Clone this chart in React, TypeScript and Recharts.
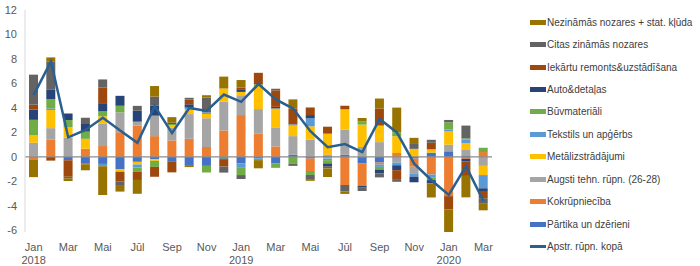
import { ComposedChart, Bar, Line, XAxis, YAxis, ReferenceLine, Legend } from 'recharts';

// Jan 2018 – Mar 2020, monthly
const months = [
  'Jan', 'Feb', 'Mar', 'Apr', 'Mai', 'Jūn', 'Jūl', 'Aug', 'Sep', 'Okt', 'Nov', 'Dec',
  'Jan', 'Feb', 'Mar', 'Apr', 'Mai', 'Jūn', 'Jūl', 'Aug', 'Sep', 'Okt', 'Nov', 'Dec',
  'Jan', 'Feb', 'Mar',
];
const years = [
  '2018', '', '', '', '', '', '', '', '', '', '', '',
  '2019', '', '', '', '', '', '', '', '', '', '', '',
  '2020', '', '',
];

const partika = [0, 0, -0.27, -0.55, -0.57, -1.02, -0.4, -0.19, -0.4, -0.73, -0.73, 0, -0.54, -0.13, -0.54, 0.19, -0.13, 0.1, 0.19, -0.54, -0.46, 0, -0.13, 0.35, 0.46, 0.13, 0];
const kokrupn = [-0.2, 1.43, 0, 0.67, 0.89, 2.02, 2.56, 1.7, 1.35, 1.48, 0.81, 2.16, 3.42, 1.89, 0.86, 0, -1.02, 0.1, -2.29, -1.81, -0.16, 0.32, -0.67, -1.43, -3.2, -0.15, 0.4];
const augstiTehn = [1.16, 0.92, 1.56, 0, 1.81, 1.62, 0.32, 1.67, 1.05, 2.02, 2.35, 2.35, 1.62, 2.02, 1.56, 1.51, 1.4, -0.13, 2.05, 0.81, 1.21, -0.46, -0.54, 0, 0.54, 0.49, -0.73];
const metali = [0.6, 1.48, 0.86, 0.81, 0.62, -0.19, -0.22, -0.13, 0.2, 0.4, 0.35, 1.08, 0.27, 1.89, 1.54, 0.86, 1.1, 1.7, 1.62, 1.83, 1.35, 1.37, 0.66, 0.27, 1.08, 0.51, -0.75];
const tekstils = [0, 0.13, 0, 0, -0.19, 0, -0.24, 0, 0, 0.13, 0.13, 0, -0.35, -0.13, 0, 0.1, 0.65, -0.13, 0, 0, -0.19, -0.22, -0.27, -0.27, 0.16, 0.3, -1.08];
const buvmat = [1.27, 0.75, 0.59, 0.59, 0.4, 0.54, -0.35, -0.49, 0.1, 0, -0.54, -0.13, -0.59, 0.13, -0.35, -0.54, -0.32, -0.27, 0.05, 0.27, -0.22, 0.32, 0, -0.19, 0.59, 0.08, 0.35];
const auto = [0.84, 0.81, 0.54, 0.62, 0.67, 0.81, 0.89, 0.81, 0.1, 0.27, 0, -0.05, 0.22, 0, 0.13, 0, 0.27, -0.22, 0, -0.16, -0.32, -0.4, -0.46, -0.27, 0, -0.2, -0.22];
const iekartas = [0.4, -0.3, -1.35, -0.05, 1.27, -0.81, -0.67, -0.81, -0.86, 0.4, 0, -0.6, 0.13, 0.94, 1.35, 1.29, 0.62, 0.57, 0.27, 0, 1.4, -0.73, 0, 0.54, -1.08, -1.2, -0.59];
const citas = [2.45, 2.29, -0.13, 0.51, 0.67, -0.27, 0.4, 0.75, 0, 0.13, 1.21, -0.5, -0.32, 0, 0.13, -0.19, -0.4, -0.19, -0.54, -0.27, -0.32, -0.22, 0.4, 0.24, 0.19, 1.05, -0.4];
const nezinamas = [-1.45, 0.32, -0.22, -0.49, -2.35, -0.54, -1.13, 0.86, 0.45, -0.1, 0.19, 0.97, 0.62, -0.67, 0, 0.75, -0.08, -0.7, -0.19, 0.27, 0.81, 2.02, 0.5, -1.15, -1.85, -1.75, -0.59];
const kopa = [5.05, 7.8, 1.6, 2.2, 3.2, 2.15, 1.15, 4.15, 1.95, 4.0, 3.75, 5.1, 4.5, 5.95, 4.7, 3.95, 2.1, 0.8, 1.05, 0.4, 3.1, 2.0, -0.55, -1.9, -3.1, -0.75, -3.6];

const yTicks = [-6, -4, -2, 0, 2, 4, 6, 8, 10, 12];

// stacking order bottom -> top
const series = [
  { key: 'partika', name: 'Pārtika un dzērieni', color: '#4472C4', values: partika },
  { key: 'kokrupn', name: 'Kokrūpniecība', color: '#ED7D31', values: kokrupn },
  { key: 'augstiTehn', name: 'Augsti tehn. rūpn. (26-28)', color: '#A5A5A5', values: augstiTehn },
  { key: 'metali', name: 'Metālizstrādājumi', color: '#FFC000', values: metali },
  { key: 'tekstils', name: 'Tekstils un apģērbs', color: '#5B9BD5', values: tekstils },
  { key: 'buvmat', name: 'Būvmateriāli', color: '#70AD47', values: buvmat },
  { key: 'auto', name: 'Auto&detaļas', color: '#264478', values: auto },
  { key: 'iekartas', name: 'Iekārtu remonts&uzstādīšana', color: '#9E480E', values: iekartas },
  { key: 'citas', name: 'Citas zināmās nozares', color: '#636363', values: citas },
  { key: 'nezinamas', name: 'Nezināmās nozares + stat. kļūda', color: '#997300', values: nezinamas },
];
const lineColor = '#2A5F8F';
const lineName = 'Apstr. rūpn. kopā';

const data = months.map((m, i) => {
  const row: any = { month: m, year: years[i], kopa: kopa[i] };
  series.forEach((s) => { row[s.key] = s.values[i]; });
  return row;
});

const font = '"Liberation Sans", Arial, sans-serif';

function MonthTick({ x, y, payload }: any) {
  const yr = years[payload.index];
  return (
    <g transform={`translate(${x},${y})`}>
      <text textAnchor="middle" y={11} fontSize={11} fill="#595959" fontFamily={font}>{payload.value}</text>
      {yr && <text textAnchor="middle" y={24} fontSize={11} fill="#595959" fontFamily={font}>{yr}</text>}
    </g>
  );
}

function LegendBox() {
  const rows = [...series].reverse();
  return (
    <div style={{ fontFamily: font, fontSize: 10, color: '#404040' }}>
      {rows.map((s) => (
        <div key={s.key} style={{ height: 22.45, display: 'flex', alignItems: 'center' }}>
          <span style={{ width: 16, height: 5, background: s.color, display: 'inline-block', marginRight: 1 }} />
          <span>{s.name}</span>
        </div>
      ))}
      <div style={{ height: 22.45, display: 'flex', alignItems: 'center' }}>
        <span style={{ width: 16, height: 2.5, background: lineColor, display: 'inline-block', marginRight: 1 }} />
        <span>{lineName}</span>
      </div>
    </div>
  );
}

export default function App() {
  return (
    <div style={{ position: 'absolute', left: 0, top: 0, width: 700, height: 266, background: '#fff' }}>
      <ComposedChart
        width={700}
        height={266}
        data={data}
        stackOffset="sign"
        margin={{ top: 10, right: 208, bottom: 0, left: 0 }}
        barSize={9}
      >
        <XAxis
          dataKey="month"
          height={34}
          interval={1}
          axisLine={false}
          tickLine={false}
          tick={<MonthTick />}
        />
        <YAxis
          width={25}
          domain={[-6, 12]}
          ticks={yTicks}
          interval={0}
          axisLine={{ stroke: '#d9d9d9' }}
          tickLine={false}
          tick={{ fontSize: 11, fill: '#595959', fontFamily: font }}
        />
        {series.map((s) => (
          <Bar key={s.key} dataKey={s.key} name={s.name} stackId="a" fill={s.color} isAnimationActive={false} />
        ))}
        <ReferenceLine y={0} stroke="#8c8c8c" strokeWidth={1.2} />
        <Line
          type="linear"
          dataKey="kopa"
          name={lineName}
          stroke={lineColor}
          strokeWidth={2.5}
          dot={false}
          isAnimationActive={false}
        />
        <Legend
          layout="horizontal"
          align="center"
          verticalAlign="middle"
          content={<LegendBox />}
          wrapperStyle={{ position: 'absolute', left: 530, top: 11, width: 170 }}
        />
      </ComposedChart>
    </div>
  );
}
